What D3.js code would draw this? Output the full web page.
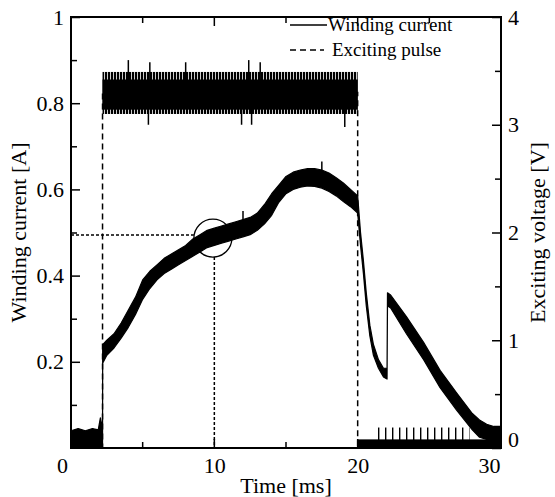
<!DOCTYPE html>
<html>
<head>
<meta charset="utf-8">
<script src="https://cdn.jsdelivr.net/npm/d3@7"></script>
<style>
body { margin: 0; background: #fff; }
svg text { font-family: "Liberation Serif", "Times New Roman", serif; fill: #000; }
</style>
</head>
<body>
<div id="chart"></div>
<script>
// winding current: time [ms] and lower / upper edge of the noisy trace [A]
var currentTime = [0, 0.5, 1.0, 1.5, 1.9, 2.05, 2.2,
    2.21, 2.5, 3, 3.5, 4, 4.5, 5, 5.5, 6, 6.5,
    7, 7.5, 8, 8.5, 9, 9.5, 10, 10.5, 11, 11.5,
    12, 12.5, 13, 13.5, 14, 14.5, 15, 15.5, 16, 16.5,
    17, 17.5, 18, 18.5, 19, 19.5, 20,
    20.2, 20.4, 20.6, 20.85, 21.1, 21.45, 21.8, 22.05,
    22.08, 22.3, 23.4, 24.6, 25.75, 26.9, 28, 28.5, 29, 29.5, 30];
var currentLow = [0, 0, 0, 0, 0, 0, 0,
    0.197, 0.215, 0.232, 0.255, 0.28, 0.31, 0.345, 0.37, 0.39, 0.405,
    0.415, 0.425, 0.435, 0.445, 0.455, 0.465, 0.47, 0.475, 0.48, 0.485,
    0.49, 0.495, 0.505, 0.52, 0.54, 0.57, 0.59, 0.60, 0.605, 0.608,
    0.607, 0.603, 0.595, 0.585, 0.572, 0.56, 0.545,
    0.47, 0.405, 0.33, 0.26, 0.215, 0.185, 0.165, 0.16,
    0.33, 0.325, 0.265, 0.205, 0.14, 0.088, 0.042, 0.025, 0.02, 0.015, 0.015];
var currentHigh = [0.04, 0.045, 0.04, 0.045, 0.042, 0.07, 0.045,
    0.24, 0.25, 0.265, 0.29, 0.32, 0.35, 0.39, 0.41, 0.425, 0.44,
    0.45, 0.46, 0.47, 0.485, 0.495, 0.505, 0.51, 0.515, 0.52, 0.525,
    0.53, 0.535, 0.545, 0.565, 0.59, 0.61, 0.63, 0.64, 0.645, 0.648,
    0.648, 0.645, 0.638, 0.627, 0.615, 0.60, 0.585,
    0.5, 0.435, 0.36, 0.285, 0.24, 0.205, 0.185, 0.185,
    0.36, 0.355, 0.305, 0.245, 0.18, 0.128, 0.08, 0.065, 0.055, 0.05, 0.05];
// single spikes on the current trace
var currentSpikeTime = [12.0, 17.5];
var currentSpikeValue = [0.55, 0.665];

// exciting pulse [V]
var pulseTime = [0, 2.2, 2.2, 20, 20, 30];
var pulseVolt = [0, 0, 3.3, 3.3, 0, 0];
// noise band on the pulse: dense core and comb-like fringe [V]
var pulseOnTime = [2.2, 20];
var pulseCore = [3.14, 3.42];
var pulseFringe = [3.10, 3.49];
var pulseSpikeTime = [4.0, 5.5, 8.0, 12.4, 13.2, 5.4, 11.9, 12.6, 19.1];
var pulseSpikeVolt = [3.6, 3.58, 3.58, 3.6, 3.58, 3.0, 3.0, 3.0, 2.98];
// noise after switch-off [V]
var pulseOffTime = [20, 30];
var pulseOffBand = [0, 0.08];
var pulseOffFringeTime = [21.3, 27.8];
var pulseOffFringeTop = 0.19;

// marked point
var markTime = 9.9;
var markCurrent = 0.487;
var guideCurrent = 0.494;
var guideTime = 10;

// ticks
var xTicks = [0, 10, 20, 30];
var xMinor = [5, 15, 25];
var yLeftTicks = [0.2, 0.4, 0.6, 0.8, 1];
var yLeftMinor = [0.1, 0.3, 0.5, 0.7, 0.9];
var yRightTicks = [0, 1, 2, 3, 4];
var yRightMinor = [0.5, 1.5, 2.5, 3.5];

var legendLabels = ["Winding current", "Exciting pulse"];

var W = 555, H = 497;
var pLeft = 71, pRight = 501, pTop = 17, pBottom = 448;

var svg = d3.select("#chart").append("svg")
    .attr("width", W)
    .attr("height", H);

var x = d3.scaleLinear().domain([0, 30]).range([pLeft, pRight]);
var yA = d3.scaleLinear().domain([0, 1]).range([pBottom, pTop]);
var yV = d3.scaleLinear().domain([0, 4]).range([pBottom, pTop]);

// stripe patterns for the noise fringes
var defs = svg.append("defs");
defs.append("pattern")
    .attr("id", "comb")
    .attr("patternUnits", "userSpaceOnUse")
    .attr("width", 3).attr("height", 20)
    .append("rect")
    .attr("width", 2.2).attr("height", 20)
    .attr("fill", "#000");
defs.append("pattern")
    .attr("id", "combSparse")
    .attr("patternUnits", "userSpaceOnUse")
    .attr("width", 7).attr("height", 20)
    .append("rect")
    .attr("width", 1.4).attr("height", 20)
    .attr("fill", "#000");

// pulse as dashed line
var pulseData = pulseTime.map(function(t, i) { return [t, pulseVolt[i]]; });
svg.append("path")
    .attr("d", d3.line().x(d => x(d[0])).y(d => yV(d[1]))(pulseData))
    .attr("fill", "none")
    .attr("stroke", "#000")
    .attr("stroke-width", 1.5)
    .attr("stroke-dasharray", "6,4");

// pulse noise band
svg.append("rect")
    .attr("x", x(pulseOnTime[0]))
    .attr("y", yV(pulseFringe[1]))
    .attr("width", x(pulseOnTime[1]) - x(pulseOnTime[0]))
    .attr("height", yV(pulseFringe[0]) - yV(pulseFringe[1]))
    .attr("fill", "url(#comb)");
svg.append("rect")
    .attr("x", x(pulseOnTime[0]))
    .attr("y", yV(pulseCore[1]))
    .attr("width", x(pulseOnTime[1]) - x(pulseOnTime[0]))
    .attr("height", yV(pulseCore[0]) - yV(pulseCore[1]))
    .attr("fill", "#000");
svg.append("g").selectAll("line")
    .data(pulseSpikeTime)
    .enter()
    .append("line")
    .attr("x1", d => x(d)).attr("x2", d => x(d))
    .attr("y1", yV(pulseVolt[2]))
    .attr("y2", (d, i) => yV(pulseSpikeVolt[i]))
    .attr("stroke", "#000")
    .attr("stroke-width", 1.5);

// noise after switch-off
svg.append("rect")
    .attr("x", x(pulseOffFringeTime[0]))
    .attr("y", yV(pulseOffFringeTop))
    .attr("width", x(pulseOffFringeTime[1]) - x(pulseOffFringeTime[0]))
    .attr("height", yV(0) - yV(pulseOffFringeTop))
    .attr("fill", "url(#combSparse)");
svg.append("rect")
    .attr("x", x(pulseOffTime[0]))
    .attr("y", yV(pulseOffBand[1]))
    .attr("width", x(pulseOffTime[1]) - x(pulseOffTime[0]))
    .attr("height", yV(pulseOffBand[0]) - yV(pulseOffBand[1]))
    .attr("fill", "#000");

// winding current as filled band
var currentData = currentTime.map(function(t, i) {
    return {t: t, lo: currentLow[i], hi: currentHigh[i]};
});
svg.append("path")
    .attr("d", d3.area()
        .x(d => x(d.t))
        .y0(d => yA(d.lo))
        .y1(d => yA(d.hi))(currentData))
    .attr("fill", "#000")
    .attr("stroke", "#000")
    .attr("stroke-width", 1.2)
    .attr("stroke-linejoin", "round");
svg.append("g").selectAll("line")
    .data(currentSpikeTime)
    .enter()
    .append("line")
    .attr("x1", d => x(d)).attr("x2", d => x(d))
    .attr("y1", (d, i) => yA(currentSpikeValue[i] - 0.04))
    .attr("y2", (d, i) => yA(currentSpikeValue[i]))
    .attr("stroke", "#000")
    .attr("stroke-width", 1.5);

// guide lines and circle
var r = 19;
svg.append("line")
    .attr("x1", x(0)).attr("x2", x(markTime) - r)
    .attr("y1", yA(guideCurrent)).attr("y2", yA(guideCurrent))
    .attr("stroke", "#000").attr("stroke-width", 1.5)
    .attr("stroke-dasharray", "3,2");
svg.append("line")
    .attr("x1", x(guideTime)).attr("x2", x(guideTime))
    .attr("y1", yA(markCurrent) + r).attr("y2", yA(0))
    .attr("stroke", "#000").attr("stroke-width", 1.5)
    .attr("stroke-dasharray", "3,2");
svg.append("circle")
    .attr("cx", x(markTime))
    .attr("cy", yA(markCurrent))
    .attr("r", r)
    .attr("fill", "none")
    .attr("stroke", "#000")
    .attr("stroke-width", 1.3);

// legend
var legend = svg.append("g");
legend.append("line")
    .attr("x1", 290).attr("x2", 327).attr("y1", 25).attr("y2", 25)
    .attr("stroke", "#000").attr("stroke-width", 1.5);
legend.append("line")
    .attr("x1", 290).attr("x2", 324).attr("y1", 50).attr("y2", 50)
    .attr("stroke", "#000").attr("stroke-width", 1.5)
    .attr("stroke-dasharray", "6,4");
legend.selectAll("text")
    .data(legendLabels)
    .enter()
    .append("text")
    .attr("x", (d, i) => i === 0 ? 328 : 332)
    .attr("y", (d, i) => 31 + i * 25)
    .style("font-size", "19px")
    .text(d => d);

// frame
svg.append("rect")
    .attr("x", pLeft).attr("y", pTop)
    .attr("width", pRight - pLeft).attr("height", pBottom - pTop)
    .attr("fill", "none")
    .attr("stroke", "#000")
    .attr("stroke-width", 2);

// inward ticks on top and bottom
function xTickMarks(vals, len) {
    var g = svg.append("g");
    vals.forEach(function(v) {
        g.append("line").attr("x1", x(v)).attr("x2", x(v)).attr("y1", pBottom).attr("y2", pBottom - len);
        g.append("line").attr("x1", x(v)).attr("x2", x(v)).attr("y1", pTop).attr("y2", pTop + len);
    });
    g.selectAll("line").attr("stroke", "#000").attr("stroke-width", 1.5);
}
xTickMarks(xTicks.slice(1, 3), 9);
xTickMarks(xMinor, 6);

svg.append("g")
    .attr("transform", "translate(" + pLeft + ",0)")
    .call(d3.axisLeft(yA).tickValues(yLeftTicks).tickSize(-9).tickPadding(7).tickFormat(d3.format("")));
svg.append("g")
    .attr("transform", "translate(" + pLeft + ",0)")
    .call(d3.axisLeft(yA).tickValues(yLeftMinor).tickSize(-6).tickFormat(""));
var rightAxis = svg.append("g")
    .attr("transform", "translate(" + pRight + ",0)")
    .call(d3.axisRight(yV).tickValues(yRightTicks).tickSize(-9).tickPadding(7).tickFormat(d3.format("d")));
svg.append("g")
    .attr("transform", "translate(" + pRight + ",0)")
    .call(d3.axisRight(yV).tickValues(yRightMinor).tickSize(-6).tickFormat(""));
var bottomAxis = svg.append("g")
    .attr("transform", "translate(0," + pBottom + ")")
    .call(d3.axisBottom(x).tickValues(xTicks).tickSize(0).tickPadding(9));

svg.selectAll(".domain").remove();
svg.selectAll(".tick line").attr("stroke", "#000").attr("stroke-width", 1.5);
svg.selectAll(".tick text")
    .style("font-size", "22px")
    .attr("fill", "#000");
svg.selectAll("g[font-family]").attr("font-family", null).attr("font-size", null);

// shift the corner labels like in the original
bottomAxis.selectAll(".tick text").filter(d => d === 0).attr("dx", -9);
bottomAxis.selectAll(".tick text").filter(d => d === 30).attr("dx", -12);
rightAxis.selectAll(".tick text").filter(d => d === 0).attr("dy", "-0.05em");

// axis titles
svg.append("text")
    .attr("x", (pLeft + pRight) / 2)
    .attr("y", 493)
    .attr("text-anchor", "middle")
    .style("font-size", "22px")
    .text("Time [ms]");
svg.append("text")
    .attr("transform", "translate(26," + ((pTop + pBottom) / 2) + ") rotate(-90)")
    .attr("text-anchor", "middle")
    .style("font-size", "22px")
    .text("Winding current [A]");
svg.append("text")
    .attr("transform", "translate(545," + ((pTop + pBottom) / 2) + ") rotate(-90)")
    .attr("text-anchor", "middle")
    .style("font-size", "22px")
    .text("Exciting voltage [V]");
</script>
</body>
</html>
